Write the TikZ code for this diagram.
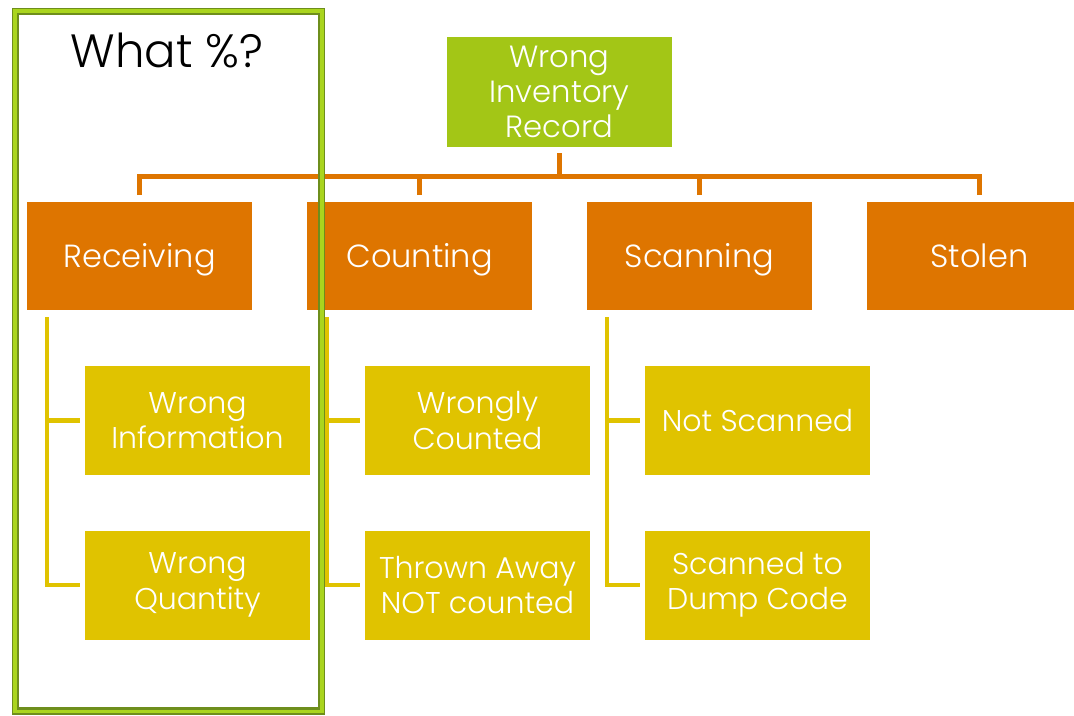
\documentclass[tikz,border=0pt]{standalone}
\usepackage{fontspec}
\IfFontExistsTF{Poppins Light}{\setmainfont{Poppins Light}}{\setmainfont{Poppins}}
\definecolor{rootgreen}{HTML}{A3C616}
\definecolor{catorange}{HTML}{DE7500}
\definecolor{subyellow}{HTML}{E0C300}
\definecolor{framedark}{HTML}{6E8E1C}
\definecolor{framelime}{HTML}{AAD51E}
\tikzset{
  basebox/.style={rectangle, inner sep=0pt, text=white, align=center},
  rootbox/.style={basebox, fill=rootgreen, minimum width=168.75pt, minimum height=82.5pt, font=\fontsize{23}{26.2}\selectfont},
  catbox/.style={basebox, fill=catorange, minimum width=168.75pt, minimum height=81pt, text height=16.8pt, text depth=0pt, font=\fontsize{24}{27}\selectfont},
  subbox/.style={basebox, fill=subyellow, minimum width=168.75pt, minimum height=81.75pt, font=\fontsize{22.5}{26.5}\selectfont},
  oline/.style={draw=catorange, line width=3.75pt},
  yline/.style={draw=subyellow, line width=3.2pt},
}
\begin{document}
\begin{tikzpicture}[x=0.75pt,y=-0.75pt]
\useasboundingbox (0,0) rectangle (1074,715);
\clip (0,0) rectangle (1074,715);
% nodes
\node[rootbox] (root) at (559.5,92) {Wrong\\Inventory\\Record};
\node[catbox] (rec) at (139.5,256) {Receiving};
\node[catbox] (cnt) at (419.5,256) {Counting};
\node[catbox] (scn) at (699.5,256) {Scanning};
\node[catbox] (stl) at (979.5,256) {Stolen};
\node[subbox] (winf) at (197.5,420.5) {Wrong\\Information};
\node[subbox] (wqty) at (197.5,585) {Wrong\\Quantity};
\node[subbox] (wcnt) at (477.5,420.5) {Wrongly\\Counted};
\node[subbox] (thrw) at (477.5,585) {Thrown Away\\NOT counted};
\node[subbox] (nscn) at (757.5,420.5) {Not Scanned};
\node[subbox] (dump) at (757.5,585) {Scanned to\\Dump Code};
% orange connectors
\coordinate (bus) at (559.5,176);
\draw[oline, shorten <=4.5pt] (root.south) -- (bus);
\draw[oline, shorten <=5pt] (rec.north) |- (bus);
\draw[oline, shorten <=5pt] (cnt.north) |- (bus);
\draw[oline, shorten <=5pt] (scn.north) |- (bus);
\draw[oline, shorten <=5pt] (stl.north) |- (bus);
% yellow connectors
\draw[yline] (rec.south west) ++(20,7) |- ([xshift=-3.75pt]winf.west);
\draw[yline] (rec.south west) ++(20,7) |- ([xshift=-3.75pt]wqty.west);
\draw[yline] (cnt.south west) ++(20,7) |- ([xshift=-3.75pt]wcnt.west);
\draw[yline] (cnt.south west) ++(20,7) |- ([xshift=-3.75pt]thrw.west);
\draw[yline] (scn.south west) ++(20,7) |- ([xshift=-3.75pt]nscn.west);
\draw[yline] (scn.south west) ++(20,7) |- ([xshift=-3.75pt]dump.west);
% frame
\draw[framedark, line width=5.5pt] (15.5,11.5) rectangle (321.5,711);
\draw[framelime, line width=2.6pt] (15,11) rectangle (322,711.5);
\node[font=\fontsize{35}{39}\selectfont, text=black] (what) at (167,50) {What \%?};
\end{tikzpicture}
\end{document}
